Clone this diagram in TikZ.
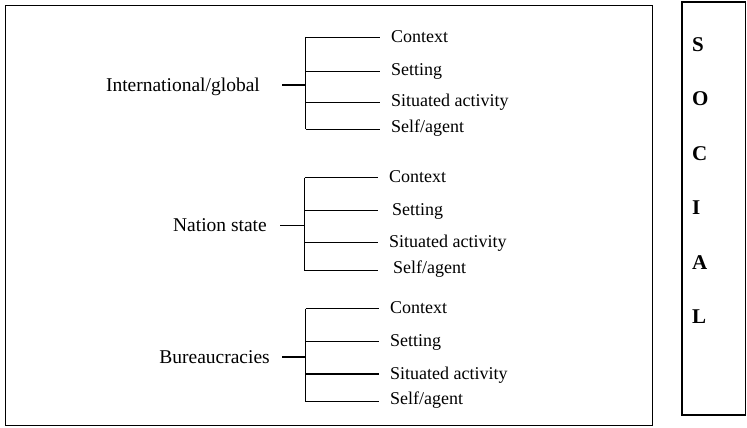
\documentclass[tikz,border=0pt]{standalone}
\usepackage{fontspec}
\setmainfont{Liberation Serif}
\begin{document}
\begin{tikzpicture}[x=1pt,y=-1pt,
  sub/.style={anchor=west, inner xsep=11pt, inner ysep=0pt, font=\fontsize{18}{20}\selectfont, text height=12pt, text depth=3pt},
  parent/.style={anchor=east, inner ysep=0pt, font=\fontsize{19.5}{22}\selectfont, text height=13pt, text depth=4pt},
  branch/.style={line width=0.8pt},
  stub/.style={line width=1.5pt},
  letter/.style={anchor=west, inner sep=0pt, font=\bfseries\fontsize{21}{24}\selectfont, text height=14pt, text depth=0pt}]
\useasboundingbox (0,0) rectangle (747,428);
% frames
\draw[line width=0.9pt] (5,5) rectangle (652,425);
\draw[line width=1.2pt] (682,2) rectangle (745.5,415);
% ---- group 1
\node[parent, inner xsep=22pt] (g1) at (282,87) {International/global};
\coordinate (b1) at (305.5,85);
\coordinate (t1a) at (305.5,37);
\coordinate (t1b) at (305.5,71);
\coordinate (t1c) at (305.5,102);
\coordinate (t1d) at (305.5,129);
\node[sub] (c1a) at (380,38) {Context};
\node[sub] (c1b) at (380,71) {Setting};
\node[sub] (c1c) at (380,102) {Situated activity};
\node[sub] (c1d) at (380,128) {Self/agent};
\draw[branch] (t1a) -- (t1d);
\draw[stub] (b1 -| g1.east) -- (b1);
\draw[branch] (t1a) -- (t1a -| c1a.west);
\draw[branch] (t1b) -- (t1b -| c1b.west);
\draw[branch] (t1c) -- (t1c -| c1c.west);
\draw[branch] (t1d) -- (t1d -| c1d.west);
% ---- group 2
\node[parent, inner xsep=13pt] (g2) at (280,227) {Nation state};
\coordinate (b2) at (304.5,225);
\coordinate (t2a) at (304.5,177.5);
\coordinate (t2b) at (304.5,210.5);
\coordinate (t2c) at (304.5,242.5);
\coordinate (t2d) at (304.5,270.5);
\node[sub] (c2a) at (378,178) {Context};
\node[sub, inner xsep=14pt] (c2b) at (378,211) {Setting};
\node[sub] (c2c) at (378,243) {Situated activity};
\node[sub, inner xsep=15pt] (c2d) at (378,269) {Self/agent};
\draw[branch] (t2a) -- (t2d);
\draw[branch] (b2 -| g2.east) -- (b2);
\draw[branch] (t2a) -- (t2a -| c2a.west);
\draw[branch] (t2b) -- (t2b -| c2b.west);
\draw[stub] (t2c) -- (t2c -| c2c.west);
\draw[branch] (t2d) -- (t2d -| c2d.west);
% ---- group 3
\node[parent, inner xsep=12pt] (g3) at (282,359) {Bureaucracies};
\coordinate (b3) at (305.5,357);
\coordinate (t3a) at (305.5,308.5);
\coordinate (t3b) at (305.5,341);
\coordinate (t3c) at (305.5,374);
\coordinate (t3d) at (305.5,401.5);
\node[sub] (c3a) at (379,309) {Context};
\node[sub] (c3b) at (379,342) {Setting};
\node[sub] (c3c) at (379,375) {Situated activity};
\node[sub] (c3d) at (379,400) {Self/agent};
\draw[branch] (t3a) -- (t3d);
\draw[stub] (b3 -| g3.east) -- (b3);
\draw[branch] (t3a) -- (t3a -| c3a.west);
\draw[branch] (t3b) -- (t3b -| c3b.west);
\draw[stub] (t3c) -- (t3c -| c3c.west);
\draw[branch] (t3d) -- (t3d -| c3d.west);
% ---- SOCIAL
\node[letter] (s1) at (692,45) {S};
\node[letter] (s2) at (692,99) {O};
\node[letter] (s3) at (692,153) {C};
\node[letter] (s4) at (692,207) {I};
\node[letter] (s5) at (692,262) {A};
\node[letter] (s6) at (692,316) {L};
\end{tikzpicture}
\end{document}
